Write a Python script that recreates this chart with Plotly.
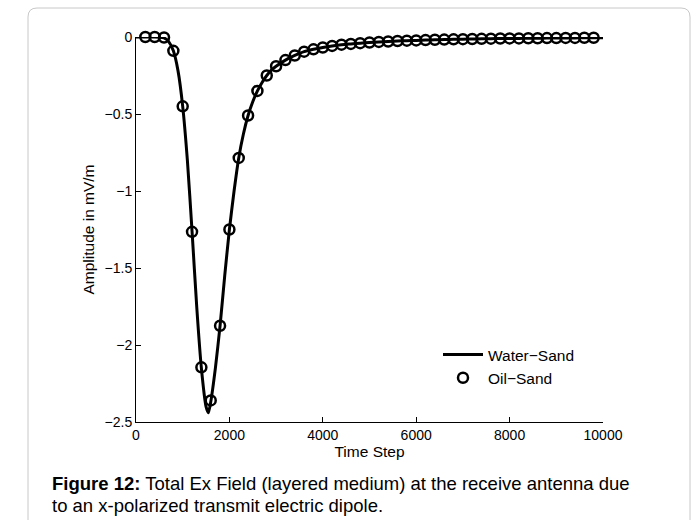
import plotly.graph_objects as go

# Water-Sand: continuous field trace (time step, amplitude in mV/m)
water_t = [0, 100, 200, 300, 400, 500, 600, 700, 800, 900, 1000, 1100, 1200, 1300,
           1400, 1500, 1550, 1600, 1700, 1800, 1900, 2000, 2100, 2200, 2300, 2400,
           2500, 2600, 2700, 2800, 2900, 3000, 3200, 3400, 3600, 3800, 4000, 4200,
           4400, 4600, 4800, 5000, 5200, 5400, 5600, 5800, 6000, 6200, 6400, 6600,
           6800, 7000, 7200, 7400, 7600, 7800, 8000, 8200, 8400, 8600, 8800, 9000,
           9200, 9400, 9600, 9800, 10000]
water_v = [0.0, 0.0, 0.0, 0.0, 0.0, -0.001, -0.006, -0.03, -0.09, -0.22, -0.45, -0.8,
           -1.26, -1.75, -2.15, -2.40, -2.44, -2.37, -2.15, -1.875, -1.55, -1.25, -1.0,
           -0.785, -0.63, -0.51, -0.42, -0.35, -0.295, -0.25, -0.215, -0.19, -0.15,
           -0.12, -0.095, -0.08, -0.068, -0.058, -0.05, -0.045, -0.04, -0.036, -0.032,
           -0.029, -0.026, -0.024, -0.022, -0.02, -0.018, -0.017, -0.015, -0.014,
           -0.013, -0.012, -0.011, -0.01, -0.009, -0.009, -0.008, -0.008, -0.007,
           -0.007, -0.006, -0.006, -0.005, -0.005, -0.005]

# Oil-Sand: sampled every 200 steps
oil_t = list(range(200, 10000, 200))
oil_v = [0.0, 0.0, -0.003, -0.09, -0.45, -1.265, -2.145, -2.36, -1.875, -1.25,
         -0.785, -0.51, -0.35, -0.25, -0.19, -0.15, -0.12, -0.095, -0.08, -0.068,
         -0.058, -0.05, -0.045, -0.04, -0.036, -0.032, -0.029, -0.026, -0.024,
         -0.022, -0.02, -0.018, -0.017, -0.015, -0.014, -0.013, -0.012, -0.011,
         -0.01, -0.009, -0.009, -0.008, -0.008, -0.007, -0.007, -0.006, -0.006,
         -0.005, -0.005]

x_ticks = [0, 2000, 4000, 6000, 8000, 10000]
x_tick_text = ["0", "2000", "4000", "6000", "8000", "10000"]
y_ticks = [0, -0.5, -1, -1.5, -2, -2.5]

caption_lines = [
    "<b>Figure 12:</b> Total Ex Field (layered medium) at the receive antenna due",
    "to an x-polarized transmit electric dipole.",
]

W, H = 697, 520
L, R, T, B = 136, 94, 37, 98
pw, ph = W - L - R, H - T - B


def px(x):
    return (x - L) / pw


def py(y):
    return (H - B - y) / ph


fig = go.Figure()
fig.add_trace(go.Scatter(
    x=water_t, y=water_v, mode="lines", name="Water\u2212Sand",
    line=dict(color="black", width=3, shape="spline", smoothing=0.6),
    cliponaxis=False,
))
fig.add_trace(go.Scatter(
    x=oil_t, y=oil_v, mode="markers", name="Oil\u2212Sand",
    marker=dict(symbol="circle-open", size=10, color="black",
                line=dict(width=2.5, color="black")),
    cliponaxis=False,
))

# rounded frame around figure and caption
x0, x1, y0, y1, r = 28, 690, 8, 530, 9
frame = (f"M {px(x0 + r)},{py(y0)} L {px(x1 - r)},{py(y0)} "
         f"Q {px(x1)},{py(y0)} {px(x1)},{py(y0 + r)} L {px(x1)},{py(y1)} "
         f"L {px(x0)},{py(y1)} L {px(x0)},{py(y0 + r)} "
         f"Q {px(x0)},{py(y0)} {px(x0 + r)},{py(y0)} Z")

annotations = []
for i, line in enumerate(caption_lines):
    annotations.append(dict(text=line, xref="paper", yref="paper",
                            x=px(50), y=py(483 + 22 * i), xanchor="left",
                            yanchor="middle", align="left", showarrow=False,
                            font=dict(size=18.5, color="black")))

fig.update_layout(
    width=W, height=H,
    margin=dict(l=L, r=R, t=T, b=B),
    paper_bgcolor="white", plot_bgcolor="white",
    font=dict(family="Liberation Sans, Arial, sans-serif", color="black", size=14),
    showlegend=True,
    legend=dict(x=px(438), y=py(338), xanchor="left", yanchor="top",
                bgcolor="rgba(0,0,0,0)", font=dict(size=15.5), itemwidth=40,
                tracegroupgap=0),
    xaxis=dict(range=[0, 10000], tickvals=x_ticks, ticktext=x_tick_text,
               ticks="inside", ticklen=5,
               showline=True, linecolor="black", linewidth=1, showgrid=False,
               zeroline=False, mirror=False, tickcolor="black",
               title=dict(text="Time Step", font=dict(size=15.5), standoff=2),
               tickfont=dict(size=14)),
    yaxis=dict(range=[-2.5, 0], tickvals=y_ticks, ticks="inside", ticklen=5,
               showline=True, linecolor="black", linewidth=1, showgrid=False,
               zeroline=False, mirror=False, tickcolor="black",
               title=dict(text="Amplitude in mV/m", font=dict(size=15.5), standoff=6),
               tickfont=dict(size=14)),
    shapes=[dict(type="path", path=frame, xref="paper", yref="paper",
                 line=dict(color="#c8c8c8", width=1), layer="below")],
    annotations=annotations,
)

fig.write_html("out.html")
